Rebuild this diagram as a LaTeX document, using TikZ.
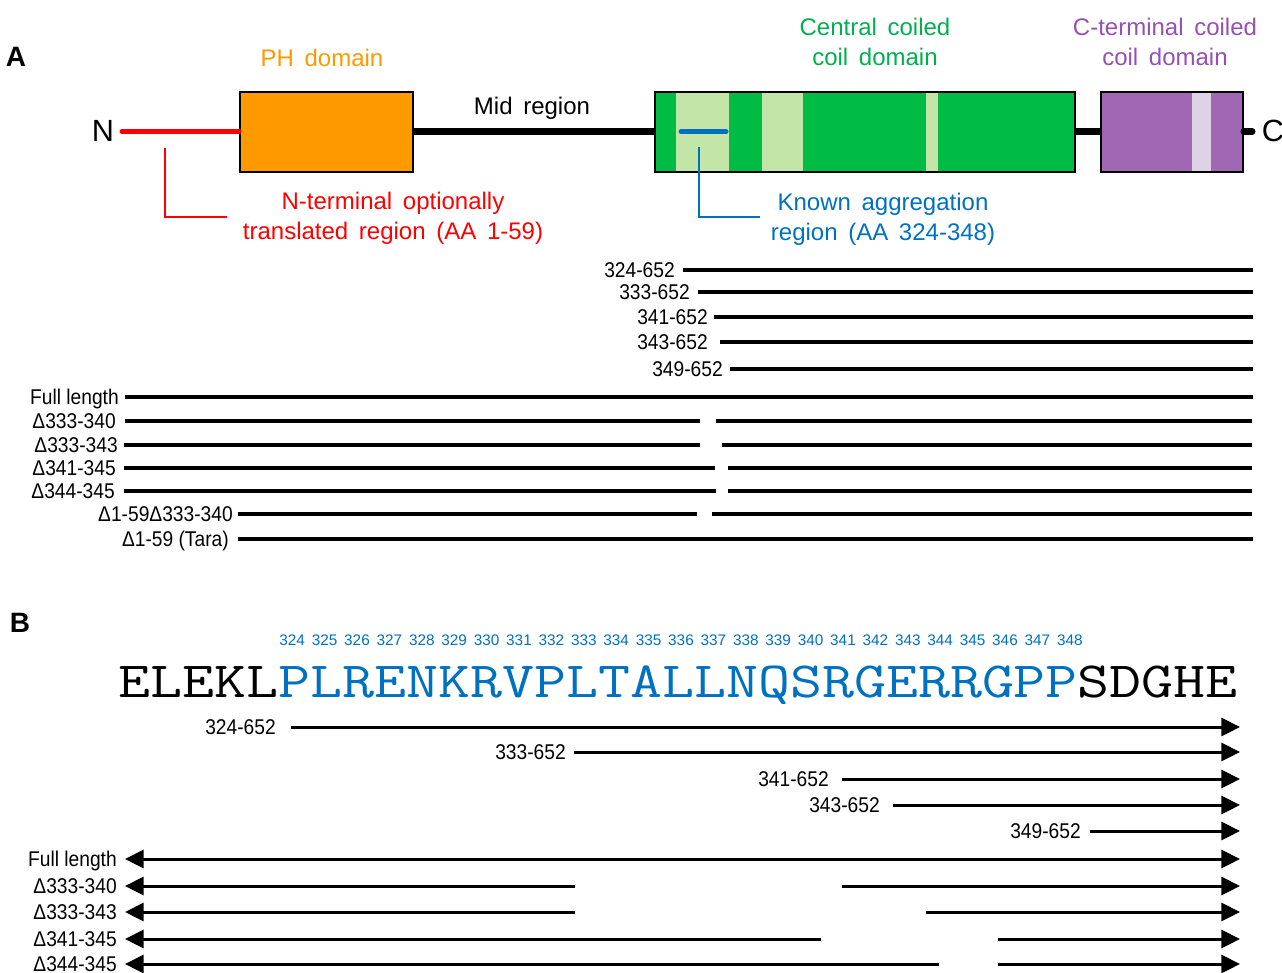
\documentclass[tikz,border=0pt]{standalone}
\usepackage{graphicx}
\usepackage{fontspec}
\setmainfont{Liberation Sans}
\newfontfamily\narrowfont[FakeStretch=0.9]{Liberation Sans}
\newfontfamily\widefont[WordSpace=1.6]{Liberation Sans}
\usetikzlibrary{arrows.meta}

\definecolor{phorange}{RGB}{255,153,0}
\definecolor{ccgreen}{RGB}{0,187,68}
\definecolor{cclight}{RGB}{195,230,168}
\definecolor{txtgreen}{RGB}{0,176,80}
\definecolor{ctpurple}{RGB}{160,104,180}
\definecolor{ctlight}{RGB}{221,210,230}
\definecolor{txtpurple}{RGB}{150,80,180}
\definecolor{aggblue}{RGB}{0,112,192}

\tikzset{
  dom/.style={draw, line width=1.5pt, inner sep=0, minimum height=60pt},
  ttl/.style={font=\widefont\fontsize{18}{22.5}\selectfont, align=center, inner sep=0},
  panel/.style={font=\bfseries\fontsize{21}{24}\selectfont, inner sep=0},
  lbl/.style={font=\narrowfont\fontsize{16}{18}\selectfont, inner sep=0, anchor=base east},
  num/.style={font=\fontsize{11.5}{12}\selectfont, text=aggblue, inner sep=0, anchor=base},
  seg/.style={line width=2.4pt},
  arr/.style={line width=2.25pt},
}

\begin{document}
\begin{tikzpicture}[x=0.75pt, y=-0.75pt, >={Triangle[length=14pt,width=13.5pt]}]
\useasboundingbox (0,0) rectangle (1282,972);

% A: domain map
\node[panel] (pa) at (16,57) {A};
\node[font=\fontsize{23}{26}\selectfont, inner sep=0] (nt) at (103,131) {N};
\node[font=\fontsize{23}{26}\selectfont, inner sep=0] (ct) at (1273,131) {C};
\coordinate (nend) at (122,131.5);
\coordinate (cend) at (1252,131.5);
\draw[black, line width=5.25pt] (413,131.5) -- (655,131.5);
\draw[black, line width=5.25pt] (1075,131.5) -- (1101,131.5);
\node[dom, fill=phorange, minimum width=129.75pt] (ph) at (326.5,131.5) {};
\node[dom, fill=ccgreen, minimum width=315pt] (cc) at (865,131.5) {};
\node[dom, fill=ctpurple, minimum width=106.5pt] (cterm) at (1172,131.5) {};
\fill[cclight] (676,92.5) rectangle (729,170.5);
\fill[cclight] (762,92.5) rectangle (803,170.5);
\fill[cclight] (926,92.5) rectangle (938,170.5);
\fill[ctlight] (1192,92.5) rectangle (1211,170.5);
\draw[red, line width=3.75pt, line cap=round] (nend) -- (ph.west);
\draw[black, line width=5.25pt, line cap=round] (cterm.east) -- (cend);
\draw[aggblue, line width=3.75pt, line cap=round] (681,131.5) -- (726,131.5);

\node[ttl, text=phorange, anchor=base] (phl) at (322,66) {PH domain};
\node[ttl, anchor=base] (mid) at (532,114) {Mid region};
\node[ttl, text=txtgreen, anchor=north] (ccl) at (875,18) {Central coiled\\coil domain};
\node[ttl, text=txtpurple, anchor=north] (ctl) at (1165,18) {C-terminal coiled\\coil domain};
\node[ttl, text=red, anchor=north] (ntl) at (393,192) {N-terminal optionally\\translated region (AA 1-59)};
\node[ttl, text=aggblue, anchor=north] (agg) at (883,193) {Known aggregation\\region (AA 324-348)};
\coordinate (ntop) at (165,148);
\coordinate (nbot) at (227,217);
\coordinate (atop) at (699,147);
\coordinate (abot) at (760,217);
\draw[red, line width=1.5pt] (ntop) |- (nbot);
\draw[aggblue, line width=1.5pt] (atop) |- (abot);

% A: constructs
\foreach \lab/\le/\xs/\y [count=\i] in {324-652/675/683/270, 333-652/690/698/292,
    341-652/708/714/317, 343-652/708/720/342, 349-652/723/730/369,
    Full length/119/125/397, Δ1-59 (Tara)/229/238/539}{
  \coordinate (fs\i) at (\xs,\y);
  \coordinate (fe\i) at (1253,\y);
  \node[lbl] (fl\i) at (\le,\y+7.5) {\lab};
  \draw[seg] (fs\i) -- (fe\i);
}
\foreach \lab/\le/\xs/\xa/\xb/\y [count=\i] in {Δ333-340/116/125/700/716/421,
    Δ333-343/118/124/700/722/445, Δ341-345/116/124/715/728/468,
    Δ344-345/115/124/716/728/491, Δ1-59Δ333-340/233/238/697/712/514}{
  \coordinate (gs\i) at (\xs,\y);
  \coordinate (ga\i) at (\xa,\y);
  \coordinate (gb\i) at (\xb,\y);
  \coordinate (ge\i) at (1252,\y);
  \node[lbl] (gl\i) at (\le,\y+7.5) {\lab};
  \draw[seg] (gs\i) -- (ga\i);
  \draw[seg] (gb\i) -- (ge\i);
}

% B: sequence
\node[panel] (pb) at (20,623) {B};
\node[inner sep=0, anchor=base west] (seq) at (118,697)
  {\scalebox{1.226}[1]{\ttfamily\fontsize{38}{40}\selectfont ELEKL\textcolor{aggblue}{PLRENKRVPLTALLNQSRGERRGPP}SDGHE}};
\foreach \n in {324,...,348}
  \node[num] (aa\n) at ({114+32.4*(\n-318.5)},645) {\n};

% B: constructs
\foreach \lab/\le/\xs/\y [count=\i] in {324-652/276/291/727, 333-652/566/574/752,
    341-652/829/842/779, 343-652/880/893/805, 349-652/1081/1090/831}{
  \coordinate (bs\i) at (\xs,\y);
  \coordinate (be\i) at (1240,\y);
  \node[lbl] (bl\i) at (\le,\y+7.5) {\lab};
  \draw[arr, ->] (bs\i) -- (be\i);
}
\coordinate (fls) at (125,859);
\coordinate (fle) at (1240,859);
\node[lbl] (fll) at (117,866.5) {Full length};
\draw[arr, <->] (fls) -- (fle);
\foreach \lab/\xa/\xb/\y [count=\i] in {Δ333-340/575/842/886, Δ333-343/575/926/912,
    Δ341-345/821/998/939, Δ344-345/939/998/964}{
  \coordinate (ds\i) at (125,\y);
  \coordinate (da\i) at (\xa,\y);
  \coordinate (db\i) at (\xb,\y);
  \coordinate (de\i) at (1240,\y);
  \node[lbl] (dl\i) at (117,\y+7.5) {\lab};
  \draw[arr, <-] (ds\i) -- (da\i);
  \draw[arr, ->] (db\i) -- (de\i);
}
\end{tikzpicture}
\end{document}
